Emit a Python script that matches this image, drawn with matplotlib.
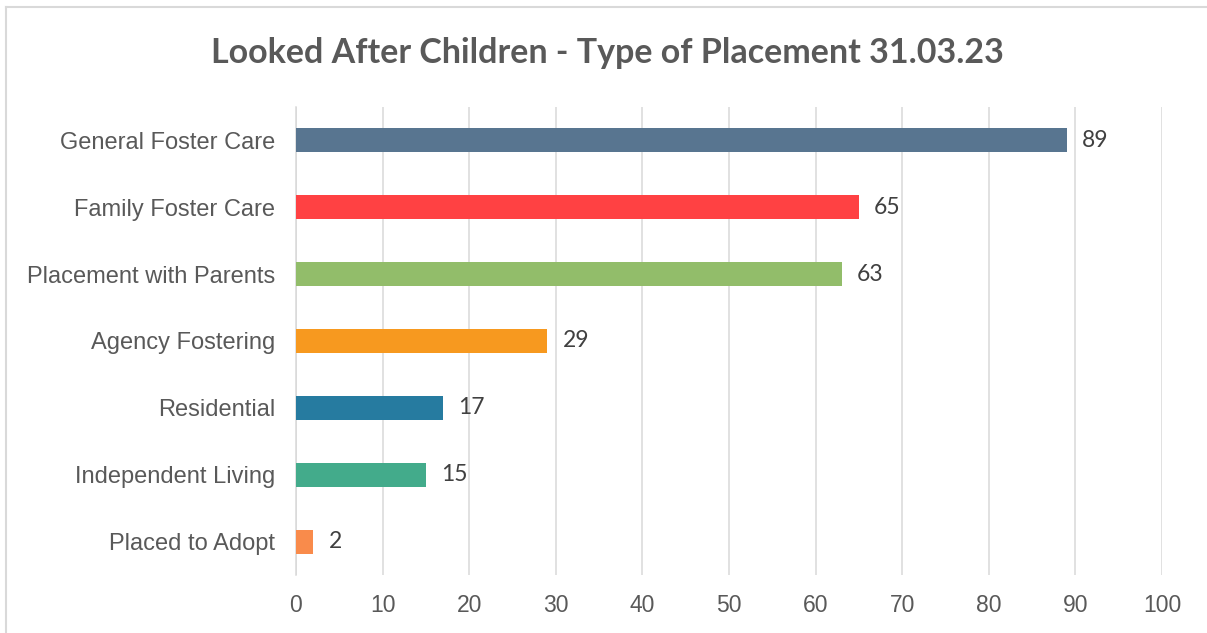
import matplotlib
matplotlib.use("Agg")
import matplotlib.pyplot as plt
from matplotlib.lines import Line2D

categories = ["General Foster Care", "Family Foster Care", "Placement with Parents",
              "Agency Fostering", "Residential", "Independent Living", "Placed to Adopt"]
values = [89, 65, 63, 29, 17, 15, 2]
colors = ["#587590", "#FF4143", "#92BD6A", "#F7991F", "#267BA0", "#43AB8B", "#F98B4B"]
xticks = [0, 10, 20, 30, 40, 50, 60, 70, 80, 90, 100]

fig = plt.figure(figsize=(12.07, 6.33), dpi=100)
ax = fig.add_axes([0.2452, 0.0916, 0.7175, 0.7394])

y = list(range(len(categories)))
ax.barh(y, values, height=0.36, color=colors, zorder=3)
ax.set_ylim(len(categories) - 0.5, -0.5)
ax.set_xlim(0, 100)
ax.set_xticks(xticks)
ax.set_yticks(y)
ax.set_yticklabels(categories, fontfamily="Liberation Sans", fontsize=17, color="#595959")
ax.set_xticklabels([str(t) for t in xticks], fontfamily="Liberation Sans", fontsize=16.5, color="#595959")
ax.tick_params(axis="both", length=0)
ax.tick_params(axis="x", pad=14)
ax.tick_params(axis="y", pad=15)

ax.grid(axis="x", color="#D9D9D9", linewidth=1.1, zorder=0)
for s in ["top", "right", "bottom"]:
    ax.spines[s].set_visible(False)
ax.spines["left"].set_color("#D9D9D9")
ax.spines["left"].set_linewidth(1.1)
ax.spines["left"].set_zorder(2)

for yi, v in zip(y, values):
    ax.annotate(str(v), (v, yi), xytext=(11, 0), textcoords="offset points",
                ha="left", va="center", fontfamily="Lato", fontsize=16.5, color="#404040")

fig.text(0.503, 0.917, "Looked After Children - Type of Placement 31.03.23",
         ha="center", va="center", fontfamily="Lato", fontweight="bold",
         fontsize=24.5, color="#595959")

# outer chart border (top and left edges only are visible)
fig.add_artist(Line2D([6 / 1207, 1.0], [1 - 7 / 633, 1 - 7 / 633], color="#D9D9D9", linewidth=1.5))
fig.add_artist(Line2D([6 / 1207, 6 / 1207], [0, 1 - 7 / 633], color="#D9D9D9", linewidth=1.5))

fig.savefig("out.png", dpi=100, facecolor="white")
